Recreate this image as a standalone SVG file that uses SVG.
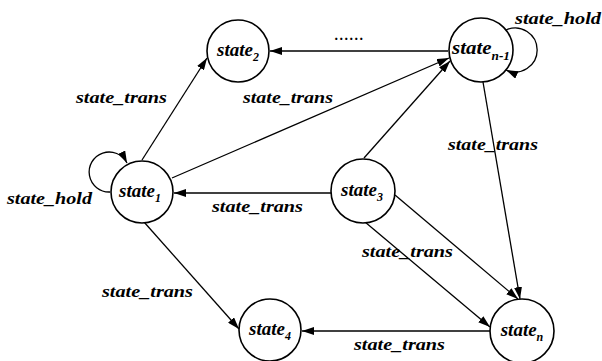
<svg xmlns="http://www.w3.org/2000/svg" width="602" height="361" viewBox="0 0 602 361">
  <style>
    text { font-family: "Liberation Serif", "Times New Roman", serif; font-weight: bold; font-style: italic; fill: #000; }
    .lbl { font-size: 17px; }
    .nlbl { font-size: 19px; text-anchor: middle; }
    .sub { font-size: 12px; }
    .node circle { fill: #fff; stroke: #000; stroke-width: 1.6; }
    .edge { fill: none; stroke: #000; stroke-width: 1.3; marker-end: url(#arrow); }
  </style>
  <defs>
    <marker id="arrow" viewBox="0 0 12 8" refX="12" refY="4" markerWidth="12" markerHeight="8" markerUnits="userSpaceOnUse" orient="auto">
      <path d="M0,0 L12,4 L0,8 z" fill="#000"/>
    </marker>
  </defs>
  <rect width="602" height="361" fill="#fff"/>

  <!-- transitions -->
  <g id="edges">
    <path class="edge" d="M142,160 L207,58"/>
    <path class="edge" d="M448,51 L270,51"/>
    <path class="edge" d="M172,178 L449,58"/>
    <path class="edge" d="M364,158 L450,61"/>
    <path class="edge" d="M483,82 L520,299"/>
    <path class="edge" d="M395,195 L518,299"/>
    <path class="edge" d="M365,222 L490,327"/>
    <path class="edge" d="M331,193 L174,193"/>
    <path class="edge" d="M144,222 L239,329"/>
    <path class="edge" d="M490,331 L302,331"/>
    <!-- self loops -->
    <path class="edge" d="M110,192 A20,20 0 1 1 127,163"/>
    <path class="edge" d="M506,30 A22,22 0 1 1 506,70"/>
  </g>

  <!-- edge labels -->
  <g id="edge-labels" class="lbl">
    <text x="76" y="103" textLength="91" lengthAdjust="spacingAndGlyphs">state_trans</text>
    <text x="243" y="103" textLength="90" lengthAdjust="spacingAndGlyphs">state_trans</text>
    <text x="515" y="24" textLength="86" lengthAdjust="spacingAndGlyphs">state_hold</text>
    <text x="448" y="150" textLength="90" lengthAdjust="spacingAndGlyphs">state_trans</text>
    <text x="7" y="204" textLength="85" lengthAdjust="spacingAndGlyphs">state_hold</text>
    <text x="212" y="212" textLength="91" lengthAdjust="spacingAndGlyphs">state_trans</text>
    <text x="102" y="297" textLength="91" lengthAdjust="spacingAndGlyphs">state_trans</text>
    <text x="362" y="257" textLength="91" lengthAdjust="spacingAndGlyphs">state_trans</text>
    <text x="354" y="350" textLength="91" lengthAdjust="spacingAndGlyphs">state_trans</text>
    <text x="335" y="40" style="font-size:14px" letter-spacing="1.5">......</text>
  </g>

  <!-- states -->
  <g id="state1" class="node">
    <circle cx="142" cy="192" r="31"/>
    <text class="nlbl" x="140" y="197">state<tspan class="sub" dy="5">1</tspan></text>
  </g>
  <g id="state2" class="node">
    <circle cx="238" cy="51" r="31"/>
    <text class="nlbl" x="238" y="56">state<tspan class="sub" dy="5">2</tspan></text>
  </g>
  <g id="state3" class="node">
    <circle cx="363" cy="191" r="32"/>
    <text class="nlbl" x="362" y="196">state<tspan class="sub" dy="5">3</tspan></text>
  </g>
  <g id="state4" class="node">
    <circle cx="270" cy="330" r="31"/>
    <text class="nlbl" x="270" y="335">state<tspan class="sub" dy="5">4</tspan></text>
  </g>
  <g id="statenm1" class="node">
    <circle cx="481" cy="50" r="32"/>
    <text class="nlbl" x="481" y="54" textLength="58" lengthAdjust="spacingAndGlyphs">state<tspan class="sub" dy="6">n-1</tspan></text>
  </g>
  <g id="staten" class="node">
    <circle cx="522" cy="331" r="32"/>
    <text class="nlbl" x="522" y="336">state<tspan class="sub" dy="5">n</tspan></text>
  </g>
</svg>
